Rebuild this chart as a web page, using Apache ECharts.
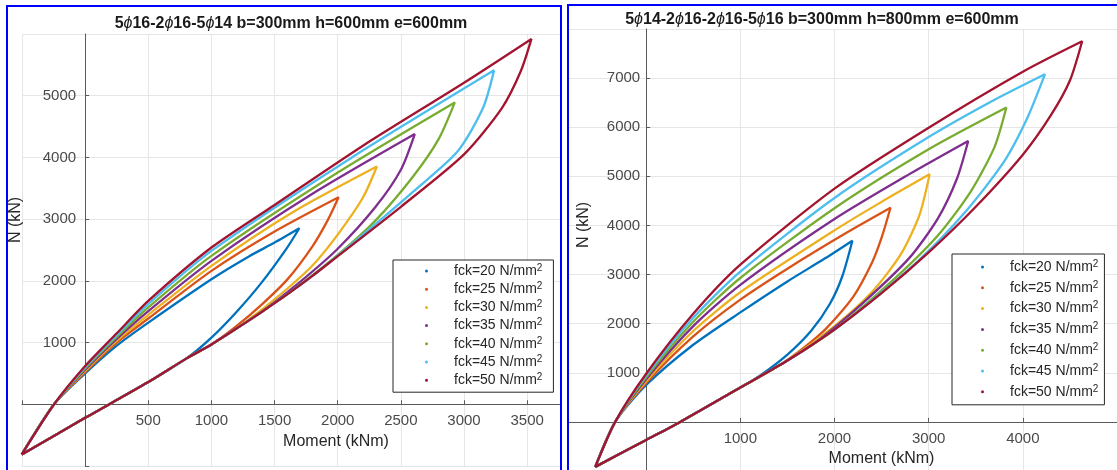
<!DOCTYPE html>
<html>
<head>
<meta charset="utf-8">
<script src="https://cdn.jsdelivr.net/npm/echarts@6/dist/echarts.min.js"></script>
<title>N-M interaction</title>
<style>
  html, body { margin: 0; padding: 0; background: #fff; }
  #main { width: 1117px; height: 470px; }
</style>
</head>
<body>
<div id="main"></div>
<script type="text/javascript">
// legend names and matlab colors
var fckNames = ['fck=20 N/mm²', 'fck=25 N/mm²', 'fck=30 N/mm²', 'fck=35 N/mm²', 'fck=40 N/mm²', 'fck=45 N/mm²', 'fck=50 N/mm²'];
var lineColors = ['#0072BD', '#D95319', '#EDB120', '#7E2F8E', '#77AC30', '#4DBEEE', '#A2142F'];

// ---- left: b=300 h=600 ----
var titleA = '5{p|ϕ}16-2{p|ϕ}16-5{p|ϕ}14 b=300mm h=600mm e=600mm';
var xMinA = -500, xMaxA = 3760, yMinA = -1000, yMaxA = 6000;
// upper branch, apex -> peak  [M kNm, N kN]
var upperA = [
  [[-502,-812],[-246,0],[0,500],[250,950],[500,1324],[1000,2027],[1300,2400],[1500,2620],[1696,2852]],
  [[-502,-812],[-246,0],[0,520],[250,1000],[500,1390],[1000,2162],[1500,2800],[2007,3355]],
  [[-502,-812],[-246,0],[0,540],[250,1030],[500,1450],[1000,2243],[1650,3120],[2310,3853]],
  [[-502,-812],[-246,0],[0,560],[250,1060],[500,1510],[1000,2324],[1800,3410],[2610,4378]],
  [[-502,-812],[-246,0],[0,580],[250,1090],[500,1570],[1000,2405],[2000,3755],[2927,4891]],
  [[-502,-812],[-246,0],[0,600],[250,1120],[500,1625],[1000,2486],[2100,3984],[3238,5411]],
  [[-502,-812],[-246,0],[0,620],[250,1150],[500,1675],[1000,2540],[1500,3230],[2200,4190],[3000,5210],[3534,5920]]
];
// lower branch, apex -> peak
var lowerA = [
  [[-502,-812],[0,-220],[500,360],[800,740],[1000,1080],[1200,1500],[1400,1980],[1600,2540],[1696,2852]],
  [[-502,-812],[0,-220],[500,360],[800,740],[1000,970],[1200,1270],[1400,1620],[1600,2020],[1800,2560],[1920,2980],[2007,3355]],
  [[-502,-812],[0,-220],[500,360],[800,740],[1000,970],[1200,1230],[1500,1700],[1800,2250],[2000,2750],[2200,3350],[2310,3853]],
  [[-502,-812],[0,-220],[500,360],[800,740],[1000,970],[1200,1230],[1400,1500],[1700,1980],[2000,2520],[2300,3200],[2500,3800],[2610,4378]],
  [[-502,-812],[0,-220],[500,360],[800,740],[1000,970],[1200,1230],[1400,1500],[1600,1780],[2000,2420],[2300,2980],[2600,3700],[2800,4300],[2927,4891]],
  [[-502,-812],[0,-220],[500,360],[800,740],[1000,970],[1200,1230],[1400,1500],[1600,1780],[1800,2080],[2200,2750],[2600,3450],[2950,4100],[3150,4800],[3238,5411]],
  [[-502,-812],[0,-220],[500,360],[800,740],[1000,970],[1200,1230],[1400,1500],[1600,1780],[1800,2080],[2000,2400],[2500,3200],[3000,4050],[3300,4800],[3450,5400],[3534,5920]]
];

// ---- right: b=300 h=800 ----
var titleB = '5{p|ϕ}14-2{p|ϕ}16-2{p|ϕ}16-5{p|ϕ}16 b=300mm h=800mm e=600mm';
var xMinB = -1000, xMaxB = 5000, yMinB = -1000, yMaxB = 8000;
var upperB = [
  [[-541,-916],[-329,0],[0,750],[500,1570],[1000,2230],[1500,2860],[1900,3330],[2190,3690]],
  [[-541,-916],[-329,0],[0,790],[500,1740],[1000,2490],[1500,3120],[2100,3820],[2595,4360]],
  [[-541,-916],[-329,0],[0,830],[500,1850],[1000,2640],[2000,3900],[2500,4480],[3010,5040]],
  [[-541,-916],[-329,0],[0,870],[500,1950],[1000,2790],[2000,4130],[2800,5050],[3420,5720]],
  [[-541,-916],[-329,0],[0,910],[500,2040],[1000,2930],[2000,4350],[3000,5550],[3825,6400]],
  [[-541,-916],[-329,0],[0,950],[500,2120],[1000,3060],[2000,4560],[3000,5800],[3700,6560],[4235,7080]],
  [[-541,-916],[-329,0],[0,980],[500,2200],[1000,3200],[2000,4750],[3000,5990],[4000,7130],[4630,7750]]
];
var lowerB = [
  [[-541,-916],[0,-367],[361,0],[1000,700],[1200,930],[1500,1370],[1750,1850],[1950,2400],[2080,2950],[2190,3690]],
  [[-541,-916],[0,-367],[361,0],[1000,700],[1200,910],[1500,1260],[1900,1880],[2200,2550],[2400,3250],[2500,3750],[2595,4360]],
  [[-541,-916],[0,-367],[361,0],[1000,700],[1500,1250],[2000,1950],[2400,2650],[2700,3400],[2900,4200],[3010,5040]],
  [[-541,-916],[0,-367],[361,0],[1000,700],[1500,1250],[1800,1620],[2300,2420],[2800,3350],[3100,4150],[3300,4950],[3420,5720]],
  [[-541,-916],[0,-367],[361,0],[1000,700],[1500,1250],[2000,1880],[2600,2850],[3100,3800],[3450,4700],[3700,5600],[3825,6400]],
  [[-541,-916],[0,-367],[361,0],[1000,700],[1500,1250],[2000,1880],[2300,2320],[2900,3300],[3400,4300],[3800,5300],[4050,6200],[4235,7080]],
  [[-541,-916],[0,-367],[361,0],[1000,700],[1500,1250],[2000,1880],[2500,2620],[3000,3450],[3500,4380],[4000,5440],[4300,6250],[4500,6950],[4630,7750]]
];

var FONT = 'Liberation Sans, Arial, sans-serif';
var gridA = { left: 22, top: 34, width: 538, height: 432 };
var gridB = { left: 552, top: 29, width: 565, height: 442 };
var myChart = echarts.init(document.getElementById('main'));

function loop(up, low) {
    // closed curve: up the upper branch, back down the lower one
    return up.concat(low.slice().reverse());
}
function tickFmt(step, hi) {
    return function (v) { return (v > 0 && v < hi && v % step === 0) ? String(v) : ''; };
}
// axes cross at the origin (matlab "origin" style): shift each axis from the grid edge to zero
function makeX(idx, min, max, step, g, yMin, yMax, zl, namePad, gap) {
    return {
        gridIndex: idx, type: 'value', min: min, max: max, interval: step, zlevel: zl,
        position: 'bottom', offset: -(0 - yMin) / (yMax - yMin) * g.height,
        name: 'Moment (kNm)', nameLocation: 'middle', nameGap: gap,
        nameTextStyle: { fontFamily: FONT, fontSize: 16, color: '#262626', padding: [0, 0, 0, namePad] },
        axisLine: { onZero: false, lineStyle: { color: '#5a5a5a', width: 1 } },
        axisTick: { show: true, inside: true, length: 4, lineStyle: { color: '#5a5a5a' } },
        axisLabel: { fontFamily: FONT, fontSize: 15, color: '#4a4a4a', margin: 9, formatter: tickFmt(step, max), showMaxLabel: false, hideOverlap: false },
        splitLine: { show: true, lineStyle: { color: '#e6e6e6', width: 1 } }
    };
}
function makeY(idx, min, max, g, xMin, xMax, zl, namePad, gap, margin) {
    return {
        gridIndex: idx, type: 'value', min: min, max: max, interval: 1000, zlevel: zl,
        position: 'left', offset: -(0 - xMin) / (xMax - xMin) * g.width,
        name: 'N (kN)', nameLocation: 'middle', nameGap: gap,
        nameTextStyle: { fontFamily: FONT, fontSize: 16, color: '#262626', padding: [0, 0, 0, namePad] },
        axisLine: { onZero: false, lineStyle: { color: '#5a5a5a', width: 1 } },
        axisTick: { show: true, inside: true, length: 4, lineStyle: { color: '#5a5a5a' } },
        axisLabel: { fontFamily: FONT, fontSize: 15, color: '#4a4a4a', margin: margin, formatter: tickFmt(1000, max), showMaxLabel: false, hideOverlap: false },
        splitLine: { show: true, lineStyle: { color: '#e6e6e6', width: 1 } }
    };
}
function makeLegend(left, top, pad, gap, zl) {
    return {
        zlevel: zl, orient: 'vertical', left: left, top: top, data: fckNames,
        icon: 'circle', itemWidth: 3, itemHeight: 3, itemGap: gap, padding: pad,
        borderColor: '#262626', borderWidth: 1, backgroundColor: '#fff',
        selectedMode: false,
        formatter: function (name) { return name.replace('²', '{s|2}'); },
        textStyle: {
            fontFamily: FONT, fontSize: 14, color: '#262626', lineHeight: 16, padding: [0, 0, 0, 21],
            rich: { s: { fontFamily: FONT, fontSize: 10, lineHeight: 8, verticalAlign: 'top', color: '#262626' } }
        }
    };
}

var series = [];
for (var i = 0; i < fckNames.length; i++) {
    series.push({
        name: fckNames[i], type: 'line', xAxisIndex: 0, yAxisIndex: 0, zlevel: 1,
        data: loop(upperA[i], lowerA[i]), showSymbol: false, smooth: 0.25,
        lineStyle: { color: lineColors[i], width: 2.3 }, itemStyle: { color: lineColors[i] }
    });
}
for (var j = 0; j < fckNames.length; j++) {
    series.push({
        name: fckNames[j], type: 'line', xAxisIndex: 1, yAxisIndex: 1, zlevel: 0,
        data: loop(upperB[j], lowerB[j]), showSymbol: false, smooth: 0.25,
        lineStyle: { color: lineColors[j], width: 2.3 }, itemStyle: { color: lineColors[j] }
    });
}

var titleStyle = {
    fontFamily: FONT, fontSize: 16, fontWeight: 'bold', color: '#1a1a1a',
    rich: { p: { fontFamily: FONT, fontSize: 16, fontStyle: 'italic', fontWeight: 'normal', color: '#1a1a1a' } }
};

option = {
    animation: false,
    backgroundColor: '#fff',
    color: lineColors,
    title: [
        { text: titleA, left: 291, top: 16, textAlign: 'center', padding: 0, zlevel: 1, textStyle: titleStyle },
        { text: titleB, left: 822, top: 12, textAlign: 'center', padding: 0, zlevel: 0, textStyle: titleStyle }
    ],
    legend: [
        makeLegend(393, 260, [3, 11, 4, 32], 2.2, 1),
        makeLegend(952, 254, [5, 6, 5, 29], 4.8, 0)
    ],
    grid: [
        { left: gridA.left, top: gridA.top, width: gridA.width, height: gridA.height, zlevel: 1, containLabel: false, outerBoundsMode: 'none' },
        { left: gridB.left, top: gridB.top, width: gridB.width, height: gridB.height, zlevel: 0, containLabel: false, outerBoundsMode: 'none' }
    ],
    xAxis: [
        makeX(0, xMinA, xMaxA, 500, gridA, yMinA, yMaxA, 1, 90, 25),
        makeX(1, xMinB, xMaxB, 1000, gridB, yMinB, yMaxB, 0, 94, 25)
    ],
    yAxis: [
        makeY(0, yMinA, yMaxA, gridA, xMinA, xMaxA, 1, 60, 62, 9),
        makeY(1, yMinB, yMaxB, gridB, xMinB, xMaxB, 0, 50, 55, 6)
    ],
    graphic: [
        // left panel sits on its own layer and hides what the right axes draw under it
        { type: 'rect', zlevel: 1, z: -10, shape: { x: 0, y: 0, width: 567, height: 470 }, style: { fill: '#fff' } },
        { type: 'rect', zlevel: 1, z: 50, shape: { x: 7, y: 6, width: 554, height: 480 }, style: { fill: 'none', stroke: '#0000ff', lineWidth: 2 } },
        { type: 'rect', zlevel: 1, z: 50, shape: { x: 568, y: 5, width: 600, height: 480 }, style: { fill: 'none', stroke: '#0000ff', lineWidth: 2 } }
    ],
    series: series
};

myChart.setOption(option);
</script>
</body>
</html>
